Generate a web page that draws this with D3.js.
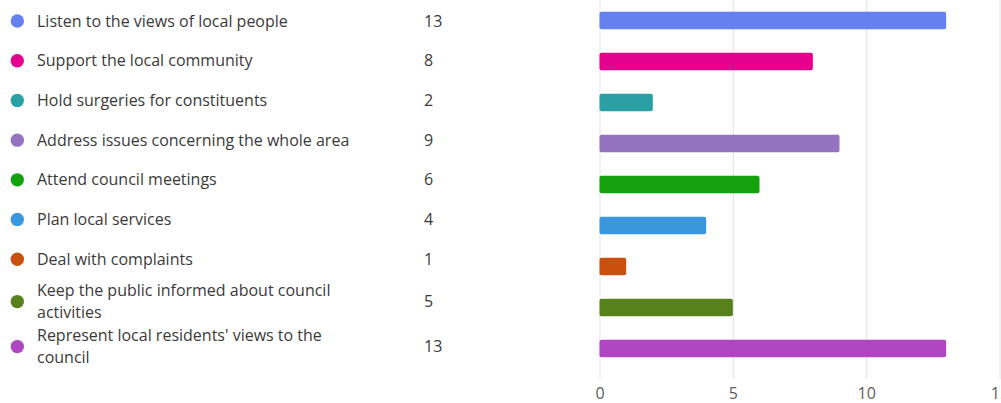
<!DOCTYPE html>
<html>
<head>
<meta charset="utf-8">
<script src="https://cdn.jsdelivr.net/npm/d3@7"></script>
<style>
  html, body { margin: 0; padding: 0; background: #fff; }
  svg { display: block; font-family: "Segoe UI", "Open Sans", "Noto Sans", sans-serif; }
</style>
</head>
<body>
<div id="chart"></div>
<script>
// Data
const categories = [
  "Listen to the views of local people",
  "Support the local community",
  "Hold surgeries for constituents",
  "Address issues concerning the whole area",
  "Attend council meetings",
  "Plan local services",
  "Deal with complaints",
  "Keep the public informed about council activities",
  "Represent local residents' views to the council"
];
const counts = [13, 8, 2, 9, 6, 4, 1, 5, 13];
const colors = ["#6580ef", "#e3008c", "#2aa0a4", "#9373c0", "#13a10e", "#3a96dd", "#ca5010", "#57811b", "#b146c2"];
const xTicks = [0, 5, 10, 15];

const width = 1001;
const height = 403;
const plot = { left: 599.5, right: 999.5, top: 0, bottom: 369 };
const fontSize = "16px";

const svg = d3.select("#chart").append("svg")
  .attr("width", width)
  .attr("height", height);

// scales
const xScale = d3.scaleLinear().domain([0, 15]).range([plot.left, plot.right]);
const yScale = d3.scaleBand()
  .domain(d3.range(categories.length))
  .range([plot.top, plot.bottom])
  .paddingInner(0.573)
  .paddingOuter(0.2865);

// grid + axis
const xAxis = svg.append("g")
  .attr("transform", `translate(0, 379)`)
  .call(d3.axisBottom(xScale).tickValues(xTicks).tickSize(-379).tickPadding(9));
xAxis.select(".domain").remove();
xAxis.selectAll(".tick line").attr("stroke", "#e6e6e6").attr("stroke-width", 1.2);
xAxis.selectAll(".tick text")
  .attr("fill", "#605e5c")
  .style("font-size", fontSize)
  .style("font-family", "\"Segoe UI\", \"Open Sans\", \"Noto Sans\", sans-serif");

// bars
svg.selectAll("rect.bar")
  .data(counts)
  .enter()
  .append("rect")
  .attr("class", "bar")
  .attr("x", xScale(0))
  .attr("y", (d, i) => yScale(i))
  .attr("width", (d) => xScale(d) - xScale(0))
  .attr("height", yScale.bandwidth())
  .attr("rx", 2)
  .attr("fill", (d, i) => colors[i]);

// legend list
const legend = svg.append("g").attr("class", "legend");
const lineH = 22.5;
const maxTextW = 325;
let yTop = 1.2;

categories.forEach((label, i) => {
  const item = legend.append("g");
  const text = item.append("text")
    .attr("x", 37)
    .attr("fill", "#3b3a39")
    .style("font-size", fontSize);

  // wrap words
  const words = label.split(" ");
  let lines = [];
  let cur = "";
  const probe = text.append("tspan");
  words.forEach((w) => {
    const test = cur ? cur + " " + w : w;
    probe.text(test);
    if (probe.node().getComputedTextLength() > maxTextW && cur) {
      lines.push(cur);
      cur = w;
    } else {
      cur = test;
    }
  });
  lines.push(cur);
  probe.remove();

  const h = Math.max(39.7, lines.length * lineH);
  const cy = yTop + h / 2;
  const firstY = cy - ((lines.length - 1) * lineH) / 2;

  lines.forEach((ln, k) => {
    text.append("tspan")
      .attr("x", 37)
      .attr("y", firstY + k * lineH)
      .attr("dy", "0.35em")
      .text(ln);
  });

  item.append("circle")
    .attr("cx", 17.3)
    .attr("cy", cy)
    .attr("r", 6.7)
    .attr("fill", colors[i]);

  item.append("text")
    .attr("x", 424)
    .attr("y", cy)
    .attr("dy", "0.35em")
    .attr("fill", "#3b3a39")
    .style("font-size", fontSize)
    .text(counts[i]);

  yTop += h;
});
</script>
</body>
</html>
